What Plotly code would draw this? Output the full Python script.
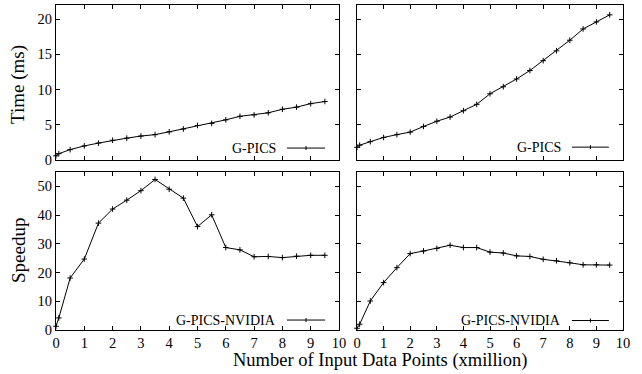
import plotly.graph_objects as go

x_points = [0, 0.1, 0.5, 1, 1.5, 2, 2.5, 3, 3.5, 4, 4.5, 5, 5.5, 6, 6.5, 7, 7.5, 8, 8.5, 9, 9.5]
time_left = [0.6, 0.9, 1.47, 2.0, 2.4, 2.8, 3.1, 3.4, 3.6, 4.0, 4.4, 4.9, 5.2, 5.7, 6.2, 6.4, 6.7, 7.2, 7.5, 8.0, 8.3]
time_right = [1.8, 2.1, 2.6, 3.2, 3.6, 3.96, 4.76, 5.5, 6.1, 7.0, 7.9, 9.4, 10.4, 11.5, 12.7, 14.1, 15.5, 17.0, 18.6, 19.6, 20.6]
speed_left = [1.3, 4.2, 18.1, 24.7, 37.2, 42.1, 45.2, 48.5, 52.4, 49.0, 45.9, 36.0, 40.1, 28.7, 27.9, 25.5, 25.6, 25.2, 25.7, 26.0, 26.0]
speed_right = [0.6, 2.0, 10.1, 16.5, 21.7, 26.6, 27.5, 28.4, 29.5, 28.7, 28.7, 27.1, 26.8, 25.8, 25.6, 24.6, 24.1, 23.4, 22.7, 22.7, 22.6]
x_ticks = list(range(0, 11))
time_ticks = [0, 5, 10, 15, 20]
speed_ticks = [0, 10, 20, 30, 40, 50]
legend_top = "G-PICS"
legend_bottom = "G-PICS-NVIDIA"

FONT = "Liberation Serif"
W, H = 642, 374
L, R, T, B = 56, 19, 5, 44
PW, PH = W - L - R, H - T - B

def px_x(p):
    return (p - L) / PW

def px_y(p):
    return (H - B - p) / PH

xdom_left = [px_x(56), px_x(339)]
xdom_right = [px_x(357), px_x(623)]
ydom_top = [px_y(160), px_y(5)]
ydom_bot = [px_y(330), px_y(172)]

fig = go.Figure()
line = dict(color="black", width=1)
marker = dict(symbol="cross-thin", size=4, line=dict(color="black", width=1), color="black")

panels = [
    ("x", "y", time_left),
    ("x2", "y2", time_right),
    ("x3", "y3", speed_left),
    ("x4", "y4", speed_right),
]
for xa, ya, ys in panels:
    fig.add_trace(go.Scatter(x=x_points, y=ys, mode="lines+markers", line=line,
                             marker=marker, xaxis=xa, yaxis=ya, showlegend=False,
                             cliponaxis=False))

TICKFONT = dict(family=FONT, size=14.5, color="black")

def xaxis(domain, anchor, labels):
    return dict(domain=domain, anchor=anchor, range=[0, 10], tickvals=x_ticks,
                showticklabels=labels, ticks="inside", ticklen=4, tickcolor="black",
                mirror="allticks", showline=True, linecolor="black", linewidth=1,
                showgrid=False, zeroline=False, tickfont=TICKFONT)

def yaxis(domain, anchor, rng, tv, labels):
    return dict(domain=domain, anchor=anchor, range=rng, tickvals=tv,
                showticklabels=labels, ticks="inside", ticklen=4, tickcolor="black",
                mirror="allticks", showline=True, linecolor="black", linewidth=1,
                showgrid=False, zeroline=False, tickfont=TICKFONT)

fig.update_layout(
    width=W, height=H,
    margin=dict(l=L, r=R, t=T, b=B, pad=0, autoexpand=False),
    paper_bgcolor="white", plot_bgcolor="white",
    font=dict(family=FONT, color="black"),
    xaxis=xaxis(xdom_left, "y", False),
    yaxis=yaxis(ydom_top, "x", [0, 22], time_ticks, True),
    xaxis2=xaxis(xdom_right, "y2", False),
    yaxis2=yaxis(ydom_top, "x2", [0, 22], time_ticks, False),
    xaxis3=xaxis(xdom_left, "y3", True),
    yaxis3=yaxis(ydom_bot, "x3", [0, 55], speed_ticks, True),
    xaxis4=xaxis(xdom_right, "y4", True),
    yaxis4=yaxis(ydom_bot, "x4", [0, 55], speed_ticks, False),
)

annotations = []
shapes = []
# legends (text left, sample line right, gnuplot style)
leg_specs = [
    ("x", "y", legend_top, 0.784, 0.816, 0.951, 0.077),
    ("x2", "y2", legend_top, 0.774, 0.808, 0.947, 0.083),
    ("x3", "y3", legend_bottom, 0.784, 0.816, 0.951, 0.063),
    ("x4", "y4", legend_bottom, 0.774, 0.808, 0.947, 0.06),
]
for xa, ya, txt, tx, l0, l1, yy in leg_specs:
    annotations.append(dict(xref=f"{xa} domain", yref=f"{ya} domain", x=tx, y=yy,
                            text=txt, showarrow=False, xanchor="right", yanchor="middle",
                            font=dict(family=FONT, size=14, color="black")))
    shapes.append(dict(type="line", xref=f"{xa} domain", yref=f"{ya} domain",
                       x0=l0, x1=l1, y0=yy, y1=yy, line=dict(color="black", width=1)))
    mid = (l0 + l1) / 2
    dy = 2 / 155
    shapes.append(dict(type="line", xref=f"{xa} domain", yref=f"{ya} domain",
                       x0=mid, x1=mid, y0=yy - dy, y1=yy + dy, line=dict(color="black", width=1)))

annotations.append(dict(xref="paper", yref="paper", x=px_x(18), y=px_y(85), text="Time (ms)",
                        textangle=-90, showarrow=False, xanchor="center", yanchor="middle",
                        font=dict(family=FONT, size=19, color="black")))
annotations.append(dict(xref="paper", yref="paper", x=px_x(18), y=px_y(251), text="Speedup",
                        textangle=-90, showarrow=False, xanchor="center", yanchor="middle",
                        font=dict(family=FONT, size=19, color="black")))
annotations.append(dict(xref="paper", yref="paper", x=px_x(380), y=px_y(360),
                        text="Number of Input Data Points (xmillion)",
                        showarrow=False, xanchor="center", yanchor="middle",
                        font=dict(family=FONT, size=18.5, color="black")))

fig.update_layout(annotations=annotations, shapes=shapes)
fig.write_html("out.html", config={"displayModeBar": False},
               post_script="document.body.style.margin='0';document.body.style.overflow='hidden';")
